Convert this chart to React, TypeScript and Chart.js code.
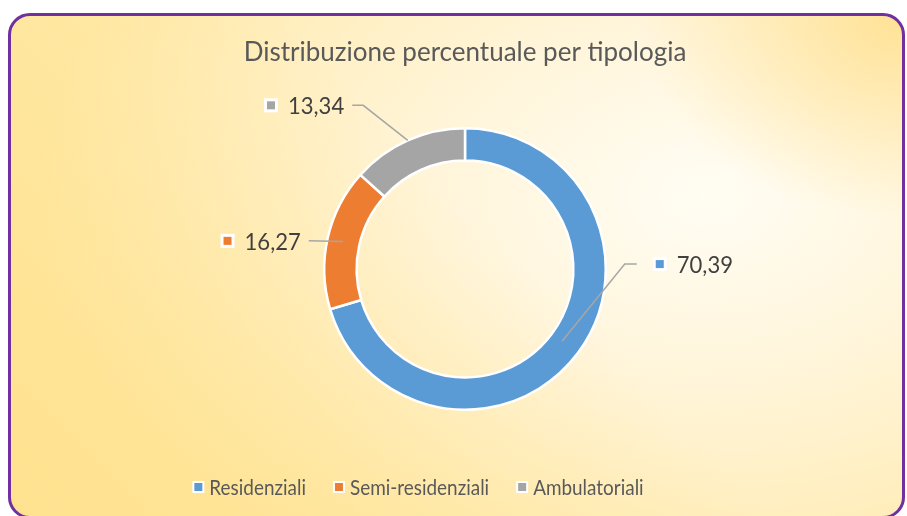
import React, { useEffect, useRef } from "react";
import { Chart, registerables } from "chart.js";

Chart.register(...registerables);

const categories = ["Residenziali", "Semi-residenziali", "Ambulatoriali"];
const values = [70.39, 16.27, 13.34];
const valueLabels = ["70,39", "16,27", "13,34"];
const colors = ["#5B9BD5", "#ED7D31", "#A5A5A5"];
const titleText = "Distribuzione percentuale per tipologia";

// label layout (in units of outer radius, relative to centre)
const labelElbow = [
  [1.135, -0.035],
  [-1.11, -0.2],
  [-0.723, -1.163],
];
const labelArcFrac = [0.86, 0.89, 1.0];
const labelStub = [12, 0, 11];
const legendCenterX = 407;
const legendY = 471;

const FONT = "Lato, 'Noto Sans', sans-serif";

function drawCondensed(ctx: any, text: string, x: number, y: number, sx: number) {
  ctx.save();
  ctx.translate(x, y);
  ctx.scale(sx, 1);
  ctx.fillText(text, 0, 0);
  ctx.restore();
}

const LABEL_SX = 0.92;
const LEGEND_SX = 0.86;

const labelsPlugin = {
  id: "sliceLabels",
  afterDatasetsDraw(chart: any) {
    const ctx = chart.ctx;
    const meta = chart.getDatasetMeta(0);
    ctx.save();
    meta.data.forEach((arc: any, i: number) => {
      const { x, y, startAngle, endAngle, outerRadius } = arc.getProps(
        ["x", "y", "startAngle", "endAngle", "outerRadius"],
        true
      );
      const R = outerRadius;
      const mid = (startAngle + endAngle) / 2;
      const ax = x + labelArcFrac[i] * R * Math.cos(mid);
      const ay = y + labelArcFrac[i] * R * Math.sin(mid);
      const ex = x + labelElbow[i][0] * R;
      const ey = y + labelElbow[i][1] * R;
      const side = labelElbow[i][0] >= 0 ? 1 : -1;
      const sx = ex + side * labelStub[i];
      ctx.strokeStyle = "#A6A6A6";
      ctx.lineWidth = 1.5;
      ctx.beginPath();
      ctx.moveTo(ax, ay);
      ctx.lineTo(ex, ey);
      ctx.lineTo(sx, ey);
      ctx.stroke();

      ctx.font = `24px ${FONT}`;
      ctx.textBaseline = "middle";
      ctx.textAlign = "left";
      const tw = ctx.measureText(valueLabels[i]).width * LABEL_SX;
      let markerX: number;
      let textX: number;
      if (side > 0) {
        markerX = sx + 23;
        textX = markerX + 17;
      } else {
        textX = sx - 8 - tw;
        markerX = textX - 17;
      }
      ctx.fillStyle = "#FFFFFF";
      ctx.fillRect(markerX - 7, ey - 7, 14, 14);
      ctx.fillStyle = colors[i];
      ctx.fillRect(markerX - 4, ey - 4, 8, 8);
      ctx.fillStyle = "#404040";
      drawCondensed(ctx, valueLabels[i], textX, ey + 1, LABEL_SX);
    });
    ctx.restore();
  },
  afterDraw(chart: any) {
    const ctx = chart.ctx;
    ctx.save();
    ctx.font = `22px ${FONT}`;
    ctx.textBaseline = "middle";
    ctx.textAlign = "left";
    const markerToText = 11;
    const gap = 33;
    const widths = categories.map((c) => ctx.measureText(c).width * LEGEND_SX);
    let total = 0;
    widths.forEach((w, i) => {
      total += 6 + markerToText + w + (i < widths.length - 1 ? gap - 6 : 0);
    });
    let cx = legendCenterX - total / 2;
    categories.forEach((c, i) => {
      const mx = cx + 6;
      ctx.fillStyle = "#FFFFFF";
      ctx.fillRect(mx - 6, legendY - 6, 12, 12);
      ctx.fillStyle = colors[i];
      ctx.fillRect(mx - 4, legendY - 4, 8, 8);
      ctx.fillStyle = "#595959";
      drawCondensed(ctx, c, mx + markerToText, legendY + 1, LEGEND_SX);
      cx = mx + markerToText + widths[i] + gap - 6;
    });
    ctx.restore();
  },
};

export default function App() {
  const ref = useRef<HTMLCanvasElement | null>(null);
  useEffect(() => {
    document.documentElement.style.overflow = "hidden";
    document.body.style.overflow = "hidden";
    if (!ref.current) return;
    const chart = new Chart(ref.current, {
      type: "doughnut",
      data: {
        labels: categories,
        datasets: [
          {
            data: values,
            backgroundColor: colors,
            borderColor: "#FFFFFF",
            borderWidth: 2.5,
          },
        ],
      },
      options: {
        animation: false,
        responsive: false,
        cutout: "77%",
        layout: { padding: { left: 17, right: 0, top: 0, bottom: 105 } },
        plugins: {
          legend: { display: false },
          tooltip: { enabled: false },
          title: {
            display: true,
            text: titleText,
            color: "#595959",
            font: { family: FONT, size: 26, weight: "normal" },
            padding: { top: 21, bottom: 58.8 },
          },
        },
      },
      plugins: [labelsPlugin],
    });
    return () => chart.destroy();
  }, []);

  return (
    <div
      style={{
        position: "absolute",
        left: 8,
        top: 13,
        width: 897,
        height: 506,
        boxSizing: "border-box",
        border: "3px solid #7030A0",
        borderRadius: 22,
        overflow: "hidden",
        background:
          "radial-gradient(ellipse 260px 200px at 100% 0%, rgba(255,222,135,0.8) 0px, rgba(255,222,135,0) 100%), linear-gradient(45deg, rgba(255,224,135,0.75) 0%, rgba(255,224,135,0) 55%), radial-gradient(ellipse 75% 90% at 78% 36%, #FFFDF4 0%, #FFF5DA 40%, #FFEDB8 80%, #FFE9A8 100%)",
      }}
    >
      <canvas ref={ref} width={891} height={500} style={{ display: "block" }} />
    </div>
  );
}
